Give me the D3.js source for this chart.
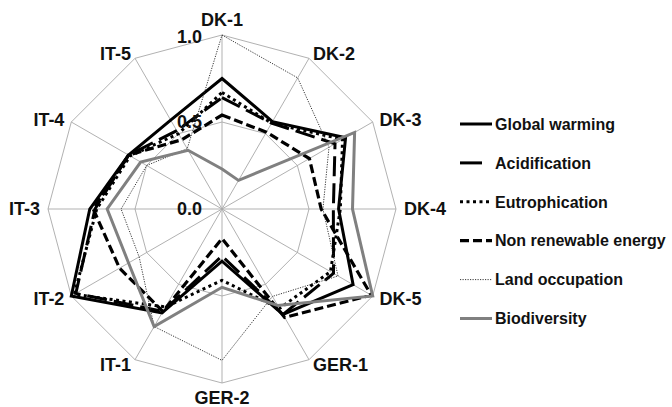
<!DOCTYPE html>
<html>
<head>
<meta charset="utf-8">
<script src="https://cdn.jsdelivr.net/npm/d3@7/dist/d3.min.js"></script>
<style>
  html, body { margin: 0; padding: 0; background: #fff; }
  svg { display: block; }
  text { font-family: "Liberation Sans", Arial, Helvetica, sans-serif; font-weight: bold; fill: #111; }
</style>
</head>
<body>
<svg id="chart" width="672" height="407"></svg>
<script>
// Sites on the radar axes, clockwise from the top
const axes = ["DK-1", "DK-2", "DK-3", "DK-4", "DK-5", "GER-1", "GER-2", "IT-1", "IT-2", "IT-3", "IT-4", "IT-5"];

// Normalised impact scores per site
const globalWarming     = [0.75, 0.58, 0.82, 0.67, 0.87, 0.70, 0.30, 0.69, 1.00, 0.76, 0.62, 0.59];
const acidification     = [0.64, 0.57, 0.75, 0.64, 0.74, 0.70, 0.27, 0.68, 0.97, 0.73, 0.62, 0.52];
const eutrophication    = [0.67, 0.57, 0.80, 0.68, 0.72, 0.66, 0.41, 0.65, 0.98, 0.72, 0.61, 0.50];
const nonRenewable      = [0.54, 0.51, 0.58, 0.57, 0.99, 0.72, 0.17, 0.68, 0.68, 0.74, 0.62, 0.46];
const landOccupation    = [1.00, 0.87, 0.71, 0.58, 0.77, 0.58, 0.87, 0.78, 0.55, 0.58, 0.50, 0.40];
const biodiversity      = [0.23, 0.19, 0.88, 0.75, 1.00, 0.64, 0.45, 0.78, 0.62, 0.66, 0.54, 0.39];

const seriesNames = ["Global warming", "Acidification", "Eutrophication", "Non renewable energy", "Land occupation", "Biodiversity"];
const seriesValues = [globalWarming, acidification, eutrophication, nonRenewable, landOccupation, biodiversity];

// Radial scale ticks
const tickValues = [0, 0.5, 1.0];
const tickLabels = ["0.0", "0.5", "1.0"];

// Line styles per series
const styles = [
  { stroke: "#000", width: 3,   dash: null,      legendDash: null },
  { stroke: "#000", width: 3,   dash: "20,7",    legendDash: "22,10" },
  { stroke: "#000", width: 3,   dash: "3,3.5",   legendDash: "3,3.5" },
  { stroke: "#000", width: 3.2, dash: "9,4",     legendDash: "9,4" },
  { stroke: "#222", width: 0.9, dash: "1.2,1.3", legendDash: "1.2,1.3" },
  { stroke: "#808080", width: 3, dash: null,   legendDash: null }
];

const svg = d3.select("#chart");
const cx = 222, cy = 209, R = 174;
const n = axes.length;
const angle = i => i * 2 * Math.PI / n;
const r = d3.scaleLinear().domain([0, 1]).range([0, R]);

const g = svg.append("g").attr("transform", `translate(${cx},${cy})`);

// Grid rings (polygons)
const ringLine = d3.lineRadial().angle((d, i) => angle(i)).radius(d => r(d)).curve(d3.curveLinearClosed);
tickValues.filter(v => v > 0).forEach(v => {
  g.append("path")
    .attr("d", ringLine(axes.map(() => v)))
    .attr("fill", "none")
    .attr("stroke", "#a8a8a8")
    .attr("stroke-width", 0.9);
});

// Spokes
g.selectAll("line.spoke").data(axes).enter().append("line")
  .attr("class", "spoke")
  .attr("x1", 0).attr("y1", 0)
  .attr("x2", (d, i) => r(1) * Math.sin(angle(i)))
  .attr("y2", (d, i) => -r(1) * Math.cos(angle(i)))
  .attr("stroke", "#a8a8a8")
  .attr("stroke-width", 0.9);

// Series polygons
const seriesLine = d3.lineRadial().angle((d, i) => angle(i)).radius(d => r(d)).curve(d3.curveLinearClosed);
seriesValues.forEach((vals, k) => {
  const s = styles[k];
  g.append("path")
    .attr("d", seriesLine(vals))
    .attr("fill", "none")
    .attr("stroke", s.stroke)
    .attr("stroke-width", s.width)
    .attr("stroke-linejoin", "miter")
    .attr("stroke-dasharray", s.dash);
});

// Tick labels along the top spoke
g.selectAll("text.tick").data(tickValues).enter().append("text")
  .attr("class", "tick")
  .attr("x", -20)
  .attr("y", d => -r(d) + (d === 1 ? 8 : 6))
  .attr("text-anchor", "end")
  .attr("font-size", 18)
  .text((d, i) => tickLabels[i]);

// Axis labels
g.selectAll("text.axis").data(axes).enter().append("text")
  .attr("class", "axis")
  .attr("font-size", 18)
  .attr("text-anchor", (d, i) => {
    const s = Math.sin(angle(i));
    return s > 0.1 ? "start" : (s < -0.1 ? "end" : "middle");
  })
  .attr("x", (d, i) => (R + 8) * Math.sin(angle(i)))
  .attr("y", (d, i) => {
    const c = Math.cos(angle(i));
    const base = -(R + 8) * c;
    const adj = Math.abs(c) > 0.99 ? -c * 7 : c * 2.5;
    return base + adj;
  })
  .attr("dy", "0.36em")
  .text(d => d);

// Legend
const legend = svg.append("g").attr("transform", "translate(460,124)");
const rowH = 38.9;
seriesNames.forEach((name, k) => {
  const s = styles[k];
  const row = legend.append("g").attr("transform", `translate(0,${k * rowH})`);
  row.append("line")
    .attr("x1", 0).attr("x2", 32)
    .attr("y1", 0).attr("y2", 0)
    .attr("stroke", s.stroke)
    .attr("stroke-width", s.width)
    .attr("stroke-dasharray", s.legendDash);
  row.append("text")
    .attr("x", 35)
    .attr("y", 0)
    .attr("dy", "0.36em")
    .attr("font-size", 16)
    .text(name);
});
</script>
</body>
</html>
